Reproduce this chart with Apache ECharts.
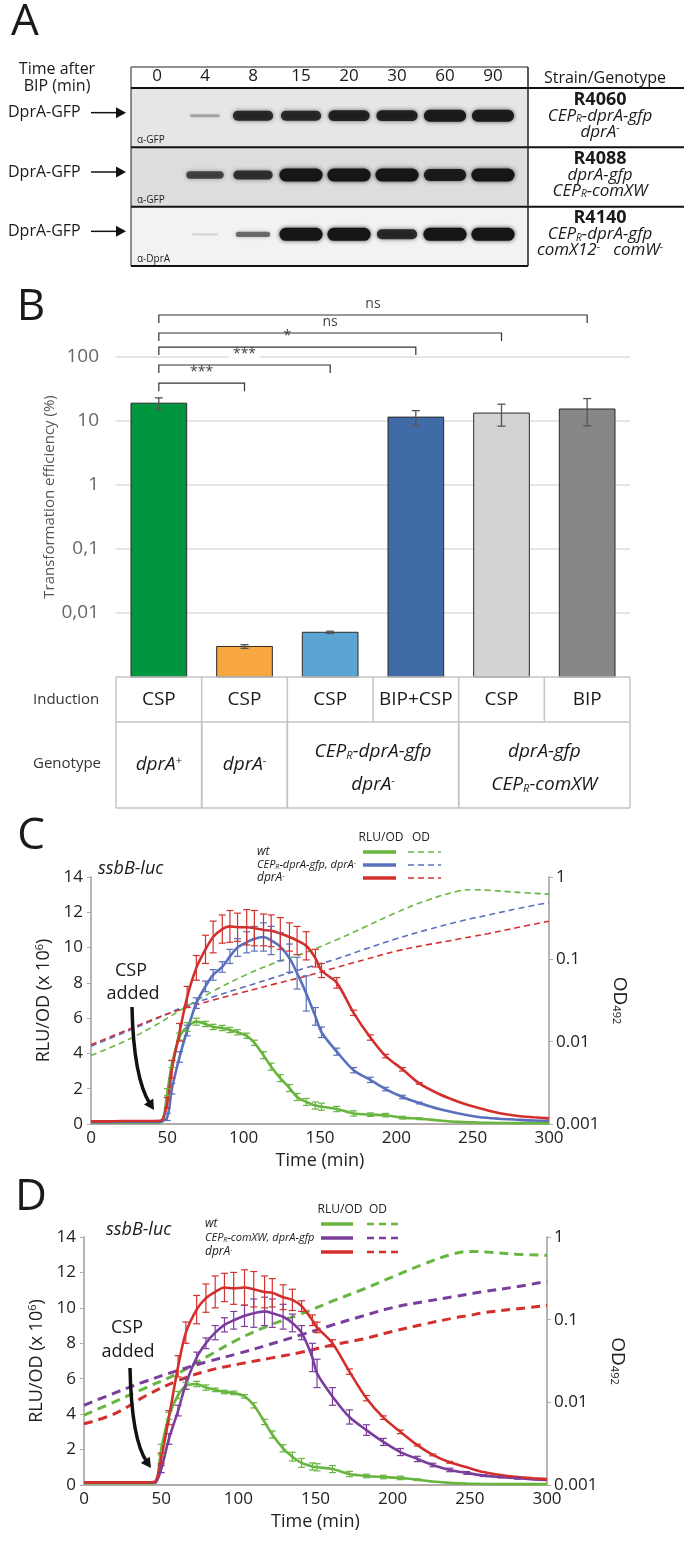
<!DOCTYPE html>
<html lang="en">
<head>
<meta charset="UTF-8">
<title>DprA-GFP induction, transformation and ssbB-luc</title>
<script src="https://cdn.jsdelivr.net/npm/echarts@6.0.0/dist/echarts.min.js"></script>
<style>
  body { margin: 0; background: #fff; }
  #fig { width: 684px; height: 1545px; }
</style>
</head>
<body>
<div id="fig"></div>
<script>
// ---------- panel A : western blots ----------
var lanes = ['0', '4', '8', '15', '20', '30', '60', '90'];
var blotStrains = ['R4060', 'R4088', 'R4140'];
var bandsR4060 = [0, 0.3, 0.85, 0.85, 0.9, 0.9, 0.95, 0.95];
var bandsR4088 = [0, 0.7, 0.8, 1, 1, 1, 0.95, 1];
var bandsR4140 = [0, 0.12, 0.55, 1, 1, 0.85, 1, 1];
var blotAntibody = ['α-GFP', 'α-GFP', 'α-DprA'];
var blotGenotype = [
  ['{i|CEP}{sb|R}{i|-dprA-gfp}', '{i|dprA}{sp|-}'],
  ['{i|dprA-gfp}', '{i|CEP}{sb|R}{i|-comXW}'],
  ['{i|CEP}{sb|R}{i|-dprA-gfp}', '{i|comX12}{sp|-}{i|   comW}{sp|-}']
];

// ---------- panel B : transformation efficiency ----------
var inductions = ['CSP', 'CSP', 'CSP', 'BIP+CSP', 'CSP', 'BIP'];
var efficiency = [19, 0.003, 0.005, 11.5, 13.3, 15.4];
var efficiencyErr = [4, 0.0002, 0.0002, 3, 5, 7];
var barColors = ['#00963f', '#f8a640', '#5ba5d5', '#416ba6', '#d3d3d3', '#878787'];
var effTickLabels = ['', '0,01', '0,1', '1', '10', '100', ''];   // 10^-3 .. 10^3
var comparisons = [[0, 1, '***'], [0, 2, '***'], [0, 3, '*'], [0, 4, 'ns'], [0, 5, 'ns']];
var comparisonLevels = [39, 75, 143, 237, 453];
var genotypeGroups = [
  { from: 0, to: 0, lines: ['{i|dprA}{sp|+}'] },
  { from: 1, to: 1, lines: ['{i|dprA}{sp|-}'] },
  { from: 2, to: 3, lines: ['{i|CEP}{sb|R}{i|-dprA-gfp}', '{i|dprA}{sp|-}'] },
  { from: 4, to: 5, lines: ['{i|dprA-gfp}', '{i|CEP}{sb|R}{i|-comXW}'] }
];

// ---------- panels C / D : ssbB-luc kinetics ----------
var odTickLabels = ['0.001', '0.01', '0.1', '1'];
var timeC = [0, 10, 20, 30, 40, 46, 50, 53, 58, 63, 69, 75, 80, 86, 91, 96, 102, 107, 113, 118,
  124, 130, 135, 141, 147, 151, 161, 172, 183, 193, 204, 215, 228, 241, 254, 267, 280, 290, 300];
var redC = [0.15, 0.15, 0.17, 0.17, 0.17, 0.2, 1.2, 3.1, 5.2, 7.2, 8.85, 9.9, 10.6, 11.05, 11.2, 11.15, 11.15, 11.1, 11.0, 10.95,
  10.8, 10.6, 10.4, 10.1, 9.4, 8.7, 8.0, 6.3, 4.9, 3.85, 3.1, 2.3, 1.7, 1.25, 0.9, 0.62, 0.45, 0.38, 0.32];
var redCErr = [0, 0, 0, 0, 0, 0, 0.3, 0.5, 0.5, 0.6, 0.7, 0.8, 0.9, 0.8, 0.9, 0.8, 1.0, 1.0, 0.9, 0.9,
  0.9, 0.8, 0.8, 0.8, 0.5, 0.4, 0.3, 0.15, 0.15, 0.1, 0.1, 0.05, 0, 0, 0, 0, 0, 0, 0];
var blueC = [0.1, 0.1, 0.12, 0.12, 0.12, 0.13, 0.4, 2.0, 3.8, 5.3, 6.85, 7.8, 8.45, 8.9, 9.5, 10.0, 10.3, 10.5, 10.6, 10.4,
  10.05, 9.4, 8.55, 7.4, 6.1, 5.2, 4.1, 3.05, 2.5, 1.98, 1.53, 1.19, 0.85, 0.6, 0.4, 0.3, 0.24, 0.2, 0.18];
var blueCErr = [0, 0, 0, 0, 0, 0, 0.2, 0.3, 0.3, 0.3, 0.3, 0.3, 0.3, 0.3, 0.4, 0.5, 0.6, 0.7, 0.8, 0.8,
  0.8, 0.8, 0.9, 1.0, 0.5, 0.3, 0.2, 0.15, 0.15, 0.1, 0.1, 0.05, 0, 0, 0, 0, 0, 0, 0];
var greenC = [0.08, 0.08, 0.08, 0.08, 0.08, 0.1, 1.8, 3.4, 4.95, 5.5, 5.8, 5.67, 5.5, 5.44, 5.33, 5.2, 5.0, 4.6, 3.9, 3.25,
  2.6, 2.04, 1.53, 1.25, 1.05, 0.98, 0.85, 0.6, 0.53, 0.5, 0.36, 0.3, 0.2, 0.12, 0.08, 0.06, 0.05, 0.05, 0.05];
var greenCErr = [0, 0, 0, 0, 0, 0, 0.2, 0.2, 0.2, 0.25, 0.2, 0.15, 0.15, 0.15, 0.15, 0.15, 0.15, 0.15, 0.2, 0.2,
  0.2, 0.2, 0.2, 0.2, 0.2, 0.2, 0.15, 0.15, 0.1, 0.1, 0.08, 0.05, 0, 0, 0, 0, 0, 0, 0];

var timeD = [0, 10, 20, 30, 40, 46, 50, 55, 61, 66, 73, 79, 85, 91, 97, 104, 110, 117, 122, 129,
  135, 141, 148, 151, 161, 172, 183, 194, 205, 216, 226, 237, 248, 259, 270, 281, 291, 300];
var redD = [0.15, 0.15, 0.15, 0.15, 0.15, 0.2, 1.5, 3.8, 6.7, 8.6, 9.9, 10.55, 10.9, 11.15, 11.1, 11.15, 11.05, 10.9, 10.85, 10.6,
  10.45, 10.1, 9.3, 8.9, 8.0, 6.4, 4.9, 3.8, 3.0, 2.25, 1.7, 1.28, 1.0, 0.73, 0.56, 0.45, 0.38, 0.33];
var redDErr = [0, 0, 0, 0, 0, 0, 0.3, 0.4, 0.6, 0.6, 0.8, 0.8, 0.9, 0.8, 0.9, 1.0, 1.0, 0.9, 0.8, 0.7,
  0.6, 0.3, 0.3, 0.3, 0.2, 0.15, 0.15, 0.1, 0.1, 0.05, 0.05, 0.05, 0, 0, 0, 0, 0, 0];
var purpleD = [0.15, 0.15, 0.15, 0.15, 0.15, 0.15, 0.9, 2.6, 4.2, 5.7, 7.2, 8.0, 8.6, 9.04, 9.3, 9.55, 9.7, 9.8, 9.7, 9.5,
  9.15, 8.6, 7.2, 6.3, 5.0, 3.84, 3.1, 2.43, 1.86, 1.47, 1.13, 0.85, 0.68, 0.53, 0.45, 0.38, 0.32, 0.28];
var purpleDErr = [0, 0, 0, 0, 0, 0, 0.2, 0.3, 0.3, 0.3, 0.3, 0.3, 0.4, 0.4, 0.5, 0.6, 0.8, 0.8, 0.8, 0.7,
  0.5, 0.4, 0.8, 0.8, 0.5, 0.4, 0.3, 0.2, 0.2, 0.15, 0.1, 0.1, 0.08, 0.05, 0.05, 0.05, 0, 0];
var greenD = [0.1, 0.1, 0.1, 0.1, 0.1, 0.1, 2.0, 3.9, 5.08, 5.6, 5.7, 5.5, 5.37, 5.25, 5.2, 5.0, 4.5, 3.56, 2.85, 2.07,
  1.6, 1.25, 1.05, 1.0, 0.9, 0.62, 0.51, 0.45, 0.4, 0.3, 0.2, 0.12, 0.08, 0.06, 0.05, 0.05, 0.05, 0.05];
var greenDErr = [0, 0, 0, 0, 0, 0, 0.3, 0.2, 0.2, 0.2, 0.15, 0.15, 0.1, 0.1, 0.1, 0.1, 0.15, 0.15, 0.2, 0.2,
  0.25, 0.25, 0.2, 0.2, 0.2, 0.15, 0.1, 0.1, 0.1, 0.05, 0, 0, 0, 0, 0, 0, 0, 0];

var odTimes = [0, 20, 40, 60, 80, 100, 120, 140, 160, 180, 200, 220, 240, 250, 260, 280, 300];
var odGreenC = [0.0068, 0.0097, 0.015, 0.025, 0.041, 0.063, 0.09, 0.12, 0.17, 0.25, 0.37, 0.52, 0.67, 0.70, 0.69, 0.65, 0.62];
var odBlueC = [0.0088, 0.0125, 0.018, 0.026, 0.035, 0.046, 0.06, 0.078, 0.1, 0.134, 0.178, 0.228, 0.285, 0.315, 0.345, 0.415, 0.49];
var odRedC = [0.0092, 0.013, 0.0185, 0.025, 0.032, 0.04, 0.05, 0.062, 0.079, 0.1, 0.126, 0.15, 0.175, 0.19, 0.205, 0.245, 0.29];
var odGreenD = [0.007, 0.0102, 0.015, 0.022, 0.036, 0.058, 0.085, 0.116, 0.165, 0.23, 0.33, 0.47, 0.63, 0.67, 0.66, 0.62, 0.60];
var odPurpleD = [0.0092, 0.013, 0.018, 0.024, 0.031, 0.039, 0.05, 0.065, 0.085, 0.11, 0.14, 0.165, 0.19, 0.205, 0.22, 0.25, 0.29];
var odRedD = [0.0055, 0.0073, 0.012, 0.018, 0.024, 0.029, 0.034, 0.04, 0.049, 0.058, 0.072, 0.088, 0.105, 0.113, 0.122, 0.135, 0.148];

var legendC = ['{i|wt}', '{s|CEP}{ss|R}{s|-dprA-gfp, dprA}{sp|-}', '{i|dprA}{sp|-}'];
var legendD = ['{i|wt}', '{s|CEP}{ss|R}{s|-comXW, dprA-gfp}', '{i|dprA}{sp|-}'];

// ---------- layout ----------
var FONT = '"Open Sans", "Noto Sans", "DejaVu Sans", sans-serif';
var INK = '#1a1a1a';
var GREEN = '#68b540', BLUE = '#5b70bd', RED = '#d2302c', PURPLE = '#7a3d9c';
var AXIS_GRAY = '#b3abab';

var G = {
  blot: { left: 133, top: 88, width: 384, height: 178 },
  bar: { left: 116, top: 293, width: 514, height: 384 },
  c: { left: 91, top: 877, width: 458, height: 247 },
  d: { left: 84, top: 1237, width: 463, height: 248 }
};

var chart = echarts.init(document.getElementById('fig'));

function rich(size) {
  return {
    i: { fontFamily: FONT, fontStyle: 'italic', fontSize: size, fill: INK, color: INK },
    n: { fontFamily: FONT, fontSize: size, fill: INK, color: INK },
    b: { fontFamily: FONT, fontWeight: 'bold', fontSize: size, fill: INK, color: INK },
    s: { fontFamily: FONT, fontStyle: 'italic', fontSize: Math.round(size * 0.88), fill: INK, color: INK },
    ss: { fontFamily: FONT, fontStyle: 'italic', fontSize: Math.round(size * 0.55), verticalAlign: 'bottom', fill: INK, color: INK },
    sb: { fontFamily: FONT, fontStyle: 'italic', fontSize: Math.round(size * 0.6), verticalAlign: 'bottom', fill: INK, color: INK },
    sp: { fontFamily: FONT, fontSize: Math.round(size * 0.6), verticalAlign: 'top', fill: INK, color: INK }
  };
}

function T(x, y, text, o) {
  o = o || {};
  return {
    type: 'text', x: x, y: y, silent: true, rotation: o.rot || 0, z: o.z || 5,
    style: {
      text: text, fontFamily: FONT, fontSize: o.size || 16,
      fontStyle: o.italic ? 'italic' : 'normal', fontWeight: o.bold ? 'bold' : 'normal',
      fill: o.color || INK, align: o.align || 'center', verticalAlign: 'middle',
      rich: o.rich
    }
  };
}
function L(x1, y1, x2, y2, color, w, dash) {
  return { type: 'line', silent: true, z: 4, shape: { x1: x1, y1: y1, x2: x2, y2: y2 },
    style: { stroke: color, lineWidth: w, lineDash: dash || null } };
}
function R(x, y, w, h, fill, stroke) {
  return { type: 'rect', silent: true, z: 1, shape: { x: x, y: y, width: w, height: h },
    style: { fill: fill, stroke: stroke || null, lineWidth: 1 } };
}
function arrowHead(tx, ty, fx, fy, size) {
  var a = Math.atan2(ty - fy, tx - fx);
  return { type: 'polygon', silent: true, z: 6, shape: { points: [
    [tx, ty],
    [tx - size * Math.cos(a) + size * 0.55 * Math.sin(a), ty - size * Math.sin(a) - size * 0.55 * Math.cos(a)],
    [tx - size * Math.cos(a) - size * 0.55 * Math.sin(a), ty - size * Math.sin(a) + size * 0.55 * Math.cos(a)]
  ] }, style: { fill: '#111' } };
}
function curvedArrow(p0, c1, c2, p1) {
  return [
    { type: 'bezierCurve', silent: true, z: 6,
      shape: { x1: p0[0], y1: p0[1], cpx1: c1[0], cpy1: c1[1], cpx2: c2[0], cpy2: c2[1], x2: p1[0], y2: p1[1] },
      style: { stroke: '#111', lineWidth: 3.5, fill: null } },
    arrowHead(p1[0] + 4, p1[1] + 6, c2[0], c2[1], 10)
  ];
}

var gfx = [];

// panel letters
gfx.push(T(25, 22, 'A', { size: 44 }));
gfx.push(T(31, 307, 'B', { size: 44 }));
gfx.push(T(31, 836, 'C', { size: 44 }));
gfx.push(T(31, 1197, 'D', { size: 44 }));

// ----- panel A frame -----
var rowH = G.blot.height / blotStrains.length;
var blotRight = 528, blotLeft = 131;
var rowFills = ['#e6e6e6', '#dddddd', '#f2f2f2'];
blotStrains.forEach(function (s, k) {
  var top = G.blot.top + k * rowH;
  gfx.push(R(blotLeft, top, blotRight - blotLeft, rowH, rowFills[k]));
  gfx.push(L(blotLeft, top, 684, top, '#111', 2));
  var cy = top + rowH / 2;
  gfx.push(T(blotLeft + 6, top + rowH - 7, blotAntibody[k], { size: 10, align: 'left', color: '#222' }));
  gfx.push(T(8, cy - 5, 'DprA-GFP', { size: 16, align: 'left' }));
  gfx.push(L(91, cy - 5, 118, cy - 5, '#111', 1.5));
  gfx.push(arrowHead(126, cy - 5, 91, cy - 5, 10));
  gfx.push(T(600, cy - 18, s, { size: 18, bold: true }));
  gfx.push(T(600, cy - 2, blotGenotype[k][0], { size: 17, rich: rich(17) }));
  gfx.push(T(600, cy + 14, blotGenotype[k][1], { size: 17, rich: rich(17) }));
});
gfx.push({ type: 'rect', silent: true, z: 3, shape: { x: blotLeft, y: 67, width: blotRight - blotLeft, height: G.blot.top + G.blot.height - 67 },
  style: { fill: null, stroke: '#222', lineWidth: 1 } });
gfx.push(L(blotLeft, G.blot.top + G.blot.height, blotRight, G.blot.top + G.blot.height, '#111', 2));
gfx.push(L(blotRight, 67, blotRight, G.blot.top + G.blot.height, '#222', 1));
gfx.push(T(57, 69, 'Time after', { size: 16 }));
gfx.push(T(57, 86, 'BIP (min)', { size: 16 }));
gfx.push(T(605, 78, 'Strain/Genotype', { size: 16 }));

// ----- panel B table -----
var colW = G.bar.width / inductions.length;
var tTop = G.bar.top + G.bar.height, tMid = 722, tBot = 808, tableGray = '#c4c4c4';
gfx.push(L(G.bar.left, tTop, G.bar.left + G.bar.width, tTop, tableGray, 1.5));
gfx.push(L(G.bar.left, tMid, G.bar.left + G.bar.width, tMid, tableGray, 1.5));
gfx.push(L(G.bar.left, tBot, G.bar.left + G.bar.width, tBot, tableGray, 1.5));
for (var i = 0; i <= inductions.length; i++) {
  gfx.push(L(G.bar.left + i * colW, tTop, G.bar.left + i * colW, tMid, tableGray, 1.5));
}
inductions.forEach(function (s, k) {
  gfx.push(T(G.bar.left + (k + 0.5) * colW, (tTop + tMid) / 2, s, { size: 19 }));
});
genotypeGroups.forEach(function (g) {
  var x0 = G.bar.left + g.from * colW, x1 = G.bar.left + (g.to + 1) * colW;
  gfx.push(L(x0, tMid, x0, tBot, tableGray, 1.5));
  gfx.push(L(x1, tMid, x1, tBot, tableGray, 1.5));
  var cy = (tMid + tBot) / 2;
  if (g.lines.length === 1) {
    gfx.push(T((x0 + x1) / 2, cy, g.lines[0], { size: 19, rich: rich(19) }));
  } else {
    gfx.push(T((x0 + x1) / 2, cy - 13, g.lines[0], { size: 19, rich: rich(19) }));
    gfx.push(T((x0 + x1) / 2, cy + 20, g.lines[1], { size: 19, rich: rich(19) }));
  }
});
gfx.push(T(33, 700, 'Induction', { size: 15, align: 'left', color: '#333' }));
gfx.push(T(33, 764, 'Genotype', { size: 15, align: 'left', color: '#333' }));
gfx.push(T(50, 497, 'Transformation efficiency (%)', { size: 15, color: '#555', rot: Math.PI / 2 }));

// ----- panels C / D decorations -----
function legendBlock(cfg) {
  gfx.push(T(cfg.hx[0], cfg.hy, 'RLU/OD', { size: 12, color: '#222' }));
  gfx.push(T(cfg.hx[1], cfg.hy, 'OD', { size: 12, color: '#222' }));
  cfg.labels.forEach(function (lab, k) {
    var y = cfg.rows[k];
    gfx.push(T(cfg.lx, y, lab, { size: 12, align: 'left', rich: rich(12) }));
    gfx.push(L(cfg.solid[0], y, cfg.solid[1], y, cfg.colors[k], 3.5));
    gfx.push(L(cfg.dash[0], y, cfg.dash[1], y, cfg.colors[k], cfg.dashW, cfg.dashType));
  });
}
legendBlock({ hx: [381, 421], hy: 838, lx: 257, rows: [852, 865, 878], labels: legendC,
  solid: [363, 396], dash: [408, 441], colors: [GREEN, BLUE, RED], dashW: 1.5, dashType: [6, 4] });
legendBlock({ hx: [340, 378], hy: 1210, lx: 205, rows: [1224, 1238, 1252], labels: legendD,
  solid: [321, 353], dash: [367, 399], colors: [GREEN, PURPLE, RED], dashW: 2.5, dashType: [7, 5] });

gfx.push(T(98, 869, 'ssbB-luc', { size: 18, italic: true, align: 'left' }));
gfx.push(T(106, 1230, 'ssbB-luc', { size: 18, italic: true, align: 'left' }));
gfx.push(T(131, 971, 'CSP', { size: 18 }));
gfx.push(T(133, 994, 'added', { size: 18 }));
gfx.push(T(127, 1328, 'CSP', { size: 18 }));
gfx.push(T(128, 1352, 'added', { size: 18 }));
gfx = gfx.concat(curvedArrow([132, 1007], [133, 1055], [140, 1088], [150, 1104]));
gfx = gfx.concat(curvedArrow([130, 1368], [131, 1415], [137, 1448], [147, 1462]));

// ---------- series helpers ----------
function errorBar(color, capHalf, w) {
  return function (params, api) {
    var e = api.value(2);
    if (!e) return;
    var t = api.value(0), v = api.value(1);
    var hi = api.coord([t, v + e]), lo = api.coord([t, v - e]);
    var st = { stroke: color, lineWidth: w };
    return { type: 'group', children: [
      { type: 'line', shape: { x1: hi[0], y1: hi[1], x2: lo[0], y2: lo[1] }, style: st },
      { type: 'line', shape: { x1: hi[0] - capHalf, y1: hi[1], x2: hi[0] + capHalf, y2: hi[1] }, style: st },
      { type: 'line', shape: { x1: lo[0] - capHalf, y1: lo[1], x2: lo[0] + capHalf, y2: lo[1] }, style: st }
    ] };
  };
}

function kineticSeries(xi, yl, yr, times, curves, odCurves, dashW, dashType) {
  var s = [];
  odCurves.forEach(function (c) {
    s.push({ type: 'line', xAxisIndex: xi, yAxisIndex: yr, smooth: 0.4, showSymbol: false, z: 2,
      data: odTimes.map(function (t, k) { return [t, c.data[k]]; }),
      lineStyle: { color: c.color, width: dashW, type: dashType } });
  });
  curves.forEach(function (c) {
    s.push({ type: 'line', xAxisIndex: xi, yAxisIndex: yl, smooth: 0.3, showSymbol: false, z: 3,
      data: times.map(function (t, k) { return [t, c.data[k]]; }),
      lineStyle: { color: c.color, width: 2.6 } });
    s.push({ type: 'custom', xAxisIndex: xi, yAxisIndex: yl, z: 4, clip: false,
      renderItem: errorBar(c.color, 3.5, 1.2), encode: { x: 0, y: 1 },
      data: times.map(function (t, k) { return [t, c.data[k], c.err[k]]; }) });
  });
  return s;
}

function kineticAxes(gi) {
  var axisLine = { show: true, lineStyle: { color: AXIS_GRAY, width: 1.8 } };
  var label = { color: '#222', fontSize: 17, fontFamily: FONT };
  var x = { type: 'value', gridIndex: gi, min: 0, max: 300, interval: 50,
    axisLine: axisLine, axisTick: { show: false }, splitLine: { show: false },
    axisLabel: Object.assign({ margin: 6 }, label),
    name: 'Time (min)', nameLocation: 'middle', nameGap: 28,
    nameTextStyle: { fontSize: 18, color: '#222', fontFamily: FONT } };
  var yl = { type: 'value', gridIndex: gi, min: 0, max: 14, interval: 2, position: 'left',
    axisLine: axisLine, axisTick: { show: true, length: 4, lineStyle: { color: AXIS_GRAY } }, splitLine: { show: false },
    axisLabel: Object.assign({ margin: 8 }, label),
    name: 'RLU/OD (x 10{sp|6})', nameLocation: 'middle', nameGap: 29, nameRotate: 90,
    nameTextStyle: { fontSize: 18, color: '#222', fontFamily: FONT,
      rich: { sp: { fontSize: 11, verticalAlign: 'top', color: '#222', fontFamily: FONT } } } };
  var yr = { type: 'log', logBase: 10, gridIndex: gi, min: 0.001, max: 1, position: 'right',
    axisLine: axisLine, axisTick: { show: true, length: 4, lineStyle: { color: AXIS_GRAY } }, splitLine: { show: false },
    axisLabel: Object.assign({ margin: 7, formatter: function (v) {
      return odTickLabels[Math.round(Math.log(v) / Math.LN10) + 3] || ''; } }, label),
    name: 'OD{sb|492}', nameLocation: 'middle', nameGap: 48, nameRotate: -90,
    nameTextStyle: { fontSize: 19, color: '#222', fontFamily: FONT,
      rich: { sb: { fontSize: 11, verticalAlign: 'bottom', color: '#222', fontFamily: FONT } } } };
  return { x: x, yl: yl, yr: yr };
}
var axC = kineticAxes(2), axD = kineticAxes(3);

// ---------- series ----------
var blotData = [];
[bandsR4060, bandsR4088, bandsR4140].forEach(function (row, b) {
  row.forEach(function (v, l) { blotData.push([l, b, v]); });
});

var series = [];
series.push({
  type: 'custom', xAxisIndex: 0, yAxisIndex: 0, z: 3, encode: { x: 0, y: 1 }, data: blotData,
  renderItem: function (params, api) {
    var v = api.value(2);
    if (!v) return;
    var c = api.coord([api.value(0), api.value(1)]);
    var cell = api.size([1, 1]);
    var w = cell[0] * (0.5 + 0.4 * v), h = 2 + 11 * v * v;
    var y = c[1] - 2;
    return { type: 'rect', shape: { x: c[0] - w / 2, y: y - h / 2, width: w, height: h, r: h / 2 },
      style: { fill: 'rgba(22,22,22,' + v + ')', shadowBlur: 4, shadowColor: 'rgba(22,22,22,' + (0.8 * v) + ')' } };
  }
});
// bars drawn from the log axis minimum up to each value
series.push({
  type: 'custom', xAxisIndex: 1, yAxisIndex: 1, z: 3, encode: { x: 0, y: 1 },
  data: efficiency.map(function (v, k) { return [k, v]; }),
  renderItem: function (params, api) {
    var k = api.value(0);
    var top = api.coord([k, api.value(1)]);
    var base = api.coord([k, 0.001]);
    var w = api.size([1, 1])[0] * 0.65;
    return { type: 'rect', shape: { x: top[0] - w / 2, y: top[1], width: w, height: base[1] - top[1] },
      style: { fill: barColors[params.dataIndex], stroke: '#2b2b2b', lineWidth: 1 } };
  }
});
series.push({
  type: 'custom', xAxisIndex: 1, yAxisIndex: 1, z: 4, encode: { x: 0, y: 1 },
  data: efficiency.map(function (v, k) { return [k, v, efficiencyErr[k]]; }),
  renderItem: errorBar('#555', 4, 1.3)
});
series.push({
  type: 'custom', xAxisIndex: 1, yAxisIndex: 1, z: 4, clip: false, encode: { x: [0, 1], y: 2 },
  data: comparisons.map(function (c, k) { return [c[0], c[1], comparisonLevels[k]]; }),
  renderItem: function (params, api) {
    var a = api.coord([api.value(0), api.value(2)]);
    var b = api.coord([api.value(1), api.value(2)]);
    var st = { stroke: '#333', lineWidth: 1.2, fill: null };
    return { type: 'group', children: [
      { type: 'polyline', shape: { points: [[a[0], a[1] + 8], [a[0], a[1]], [b[0], a[1]], [b[0], a[1] + 8]] }, style: st },
      { type: 'text', style: { text: comparisons[params.dataIndex][2], x: (a[0] + b[0]) / 2, y: a[1] - 4,
        align: 'center', verticalAlign: 'bottom', fontSize: 14, fontFamily: FONT, fill: '#444',
        backgroundColor: '#fff', padding: [0, 4] } }
    ] };
  }
});
series = series.concat(kineticSeries(2, 2, 3, timeC,
  [{ data: greenC, err: greenCErr, color: GREEN }, { data: blueC, err: blueCErr, color: BLUE }, { data: redC, err: redCErr, color: RED }],
  [{ data: odGreenC, color: GREEN }, { data: odBlueC, color: BLUE }, { data: odRedC, color: RED }], 1.6, [6, 4]));
series = series.concat(kineticSeries(3, 4, 5, timeD,
  [{ data: greenD, err: greenDErr, color: GREEN }, { data: purpleD, err: purpleDErr, color: PURPLE }, { data: redD, err: redDErr, color: RED }],
  [{ data: odGreenD, color: GREEN }, { data: odPurpleD, color: PURPLE }, { data: odRedD, color: RED }], 3, [9, 6]));

var option = {
  backgroundColor: '#fff',
  animation: false,
  textStyle: { fontFamily: FONT },
  grid: [G.blot, G.bar, G.c, G.d],
  xAxis: [
    { type: 'category', gridIndex: 0, data: lanes, position: 'top',
      axisLine: { show: false }, axisTick: { show: false },
      axisLabel: { fontSize: 17, color: INK, margin: 3, fontFamily: FONT } },
    { type: 'category', gridIndex: 1, data: inductions, show: false },
    axC.x, axD.x
  ],
  yAxis: [
    { type: 'category', gridIndex: 0, data: blotStrains, inverse: true, show: false },
    { type: 'log', logBase: 10, gridIndex: 1, min: 0.001, max: 1000,
      axisLine: { show: false }, axisTick: { show: false },
      splitLine: { show: true, showMinLine: false, showMaxLine: false, lineStyle: { color: '#dcdcdc', width: 1.5 } },
      axisLabel: { fontSize: 19, color: '#666', margin: 17, fontFamily: FONT, formatter: function (v) {
        return effTickLabels[Math.round(Math.log(v) / Math.LN10) + 3] || ''; } } },
    axC.yl, axC.yr, axD.yl, axD.yr
  ],
  series: series,
  graphic: { elements: gfx }
};

chart.setOption(option);
</script>
</body>
</html>
